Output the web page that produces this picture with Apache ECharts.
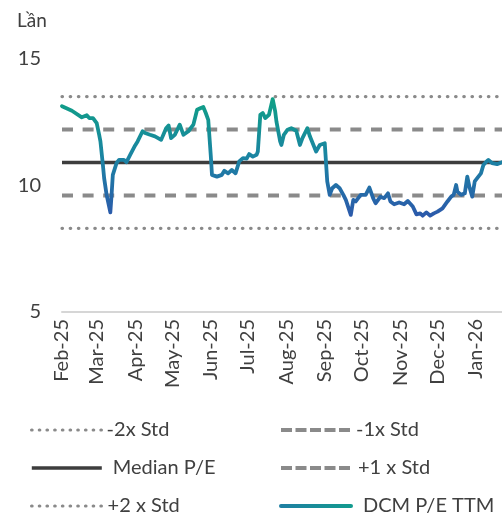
<!DOCTYPE html>
<html>
<head>
<meta charset="utf-8">
<script src="https://cdn.jsdelivr.net/npm/echarts@6/dist/echarts.min.js"></script>
<style>
  html, body { margin: 0; padding: 0; background: #fff; }
  #main { width: 502px; height: 520px; }
</style>
</head>
<body>
<div id="main"></div>
<script>
// P/E TTM cua DCM, doc tu hinh
var dates = ['2025-02-01','2025-02-09','2025-02-17','2025-02-21','2025-02-23','2025-02-26',
  '2025-03-01','2025-03-03','2025-03-04','2025-03-05','2025-03-06','2025-03-07','2025-03-09','2025-03-12','2025-03-13','2025-03-14','2025-03-17','2025-03-19','2025-03-23','2025-03-25','2025-03-28',
  '2025-04-01','2025-04-03','2025-04-07','2025-04-09','2025-04-13','2025-04-17','2025-04-22','2025-04-23','2025-04-26','2025-04-28','2025-04-30',
  '2025-05-03','2025-05-07','2025-05-10','2025-05-14','2025-05-18','2025-05-21','2025-05-24','2025-05-26','2025-05-28','2025-05-30',
  '2025-06-01','2025-06-02','2025-06-03','2025-06-06','2025-06-10','2025-06-12','2025-06-15','2025-06-18','2025-06-21','2025-06-24','2025-06-27','2025-06-30',
  '2025-07-02','2025-07-05','2025-07-08','2025-07-09','2025-07-11','2025-07-13','2025-07-15','2025-07-18','2025-07-21','2025-07-23','2025-07-24','2025-07-27','2025-07-28','2025-07-30',
  '2025-08-02','2025-08-05','2025-08-09','2025-08-12','2025-08-14','2025-08-18','2025-08-20','2025-08-25','2025-08-28',
  '2025-09-01','2025-09-02','2025-09-03','2025-09-05','2025-09-07','2025-09-10','2025-09-13','2025-09-16','2025-09-18','2025-09-22','2025-09-24','2025-09-26','2025-09-30',
  '2025-10-01','2025-10-04','2025-10-07','2025-10-10','2025-10-12','2025-10-16','2025-10-19','2025-10-22','2025-10-24','2025-10-27','2025-10-31',
  '2025-11-04','2025-11-07','2025-11-11','2025-11-14','2025-11-17','2025-11-19','2025-11-22','2025-11-25','2025-11-28',
  '2025-12-01','2025-12-05','2025-12-09','2025-12-12','2025-12-14','2025-12-16','2025-12-17','2025-12-20','2025-12-23','2025-12-25','2025-12-27','2025-12-29','2025-12-31',
  '2026-01-02','2026-01-05','2026-01-07','2026-01-09','2026-01-11','2026-01-14','2026-01-18','2026-01-22'];

var peValues = [13.12, 12.94, 12.68, 12.76, 12.65, 12.65,
  12.45, 11.99, 11.73, 11.7, 10.8, 10.28, 9.62, 8.93, 9.62, 10.41, 10.87, 11.0, 11.0, 10.91, 11.2,
  11.57, 11.73, 12.13, 12.06, 11.99, 11.93, 11.79, 11.73, 12.25, 12.36, 11.86,
  11.99, 12.39, 11.99, 12.13, 12.39, 12.98, 13.05, 13.09, 12.85, 12.58,
  11.2, 10.41, 10.47, 10.34, 10.41, 10.57, 10.47, 10.6, 10.47, 10.94, 11.07, 11.05,
  11.23, 11.13, 11.2, 11.33, 12.78, 12.85, 12.65, 12.78, 13.4, 12.91, 12.52, 11.73, 11.59, 11.99,
  12.19, 12.25, 12.15, 11.59, 11.86, 12.25, 11.93, 11.33, 11.59,
  11.66, 11.6, 10.15, 9.62, 9.88, 10.01, 9.88, 9.62, 9.42, 8.83, 9.42, 9.36, 9.62,
  9.68, 9.62, 9.91, 9.49, 9.29, 9.55, 9.49, 9.68, 9.36, 9.25, 9.32,
  9.25, 9.38, 9.16, 8.85, 8.89, 8.8, 8.93, 8.8, 8.89,
  8.96, 9.09, 9.36, 9.55, 9.62, 10.01, 9.75, 9.62, 9.68, 10.34, 9.88, 9.55, 10.15,
  10.28, 10.47, 10.8, 10.91, 11.0, 10.87, 10.83, 10.91];

// cac duong trung vi / do lech chuan
var bandNames = ['-2x Std', '-1x Std', 'Median P/E', '+1 x Std', '+2 x Std'];
var bandValues = [8.3, 9.6, 10.9, 12.2, 13.5];

var monthNames = ['Jan','Feb','Mar','Apr','May','Jun','Jul','Aug','Sep','Oct','Nov','Dec'];
var monthTicks = ['2025-02-01','2025-03-01','2025-04-01','2025-05-01','2025-06-01','2025-07-01',
  '2025-08-01','2025-09-01','2025-10-01','2025-11-01','2025-12-01','2026-01-01'];

var yTicks = [5, 10, 15];

function toTime(s) {
    var p = s.split('-');
    return Date.UTC(+p[0], +p[1] - 1, +p[2]);
}

var FONT = 'Lato';
var TXT = '#404040';

var myChart = echarts.init(document.getElementById('main'));

var xMin = toTime(dates[0]);
var xMax = toTime(dates[dates.length - 1]);

var lineData = [];
for (var i = 0; i < dates.length; i++) {
    lineData.push([toTime(dates[i]), peValues[i]]);
}

var bandStyles = [
    {type: [0.5, 7.7], width: 3.2, cap: 'round', color: '#8a8a8a'},
    {type: [11, 9.6], width: 4, cap: 'butt', color: '#8a8a8a'},
    {type: 'solid', width: 3.6, cap: 'butt', color: '#3d3d3d'},
    {type: [11, 9.6], width: 4, cap: 'butt', color: '#8a8a8a'},
    {type: [0.5, 7.7], width: 3.2, cap: 'round', color: '#8a8a8a'}
];

var series = [];
for (var b = 0; b < bandNames.length; b++) {
    series.push({
        name: bandNames[b],
        type: 'line',
        symbol: 'none',
        silent: true,
        z: 2,
        color: bandStyles[b].color,
        lineStyle: {
            color: bandStyles[b].color,
            width: bandStyles[b].width,
            type: bandStyles[b].type,
            cap: bandStyles[b].cap
        },
        data: [[xMin, bandValues[b]], [xMax, bandValues[b]]]
    });
}

var peColor = new echarts.graphic.LinearGradient(0, 0, 0, 1, [
    {offset: 0, color: '#0fa085'},
    {offset: 0.5, color: '#1b84a3'},
    {offset: 1, color: '#2c58ab'}
]);

series.push({
    name: 'DCM P/E TTM',
    type: 'line',
    symbol: 'none',
    z: 5,
    color: '#1a8a9c',
    lineStyle: {color: peColor, width: 3.8, join: 'round', cap: 'round'},
    data: lineData
});

// moi muc chu thich dat rieng de giu dung 2 cot
var legendPos = [
    {name: '-2x Std', left: 30, top: 420, pad: 0, st: 0},
    {name: '-1x Std', left: 279, top: 420, pad: 0, st: 1},
    {name: 'Median P/E', left: 30, top: 458, pad: 6, st: 2},
    {name: '+1 x Std', left: 279, top: 458, pad: 2, st: 3},
    {name: '+2 x Std', left: 30, top: 496, pad: 1, st: 4},
    {name: 'DCM P/E TTM', left: 279, top: 496, pad: 7, st: -1}
];
var legends = [];
for (var k = 0; k < legendPos.length; k++) {
    var lg = {
        data: [legendPos[k].name],
        left: legendPos[k].left,
        top: legendPos[k].top,
        padding: 0,
        itemWidth: 70,
        itemHeight: 14,
        selectedMode: false,
        itemStyle: {opacity: 0},
        textStyle: {
            fontFamily: FONT, fontSize: 20, color: TXT,
            padding: [0, 0, 0, legendPos[k].pad]
        }
    };
    if (legendPos[k].st >= 0) {
        var s = bandStyles[legendPos[k].st];
        lg.lineStyle = {
            color: s.color,
            width: s.width,
            type: s.type === 'solid' ? 'solid' : (s.cap === 'round' ? [0.5, 7.2] : [11, 3.5]),
            cap: s.cap
        };
    } else {
        lg.lineStyle = {color: new echarts.graphic.LinearGradient(0, 0, 1, 0, [
            {offset: 0, color: '#1f7fa3'},
            {offset: 1, color: '#129b8e'}
        ]), width: 4, cap: 'round'};
    }
    legends.push(lg);
}

var option = {
    animation: false,
    title: {
        text: 'Lần',
        left: 12,
        top: 6,
        textStyle: {fontFamily: FONT, fontSize: 19, fontWeight: 'normal', color: TXT}
    },
    legend: legends,
    grid: {left: 62, right: 0, top: 58.5, bottom: 208, containLabel: false},
    xAxis: {
        type: 'value',
        min: xMin,
        max: xMax,
        axisLine: {show: true, lineStyle: {color: '#d6d6d6', width: 2}},
        axisTick: {show: false},
        splitLine: {show: false},
        axisLabel: {
            rotate: 90,
            margin: 7,
            fontFamily: FONT,
            fontSize: 20,
            color: TXT,
            customValues: monthTicks.map(toTime),
            formatter: function (val) {
                var d = new Date(val);
                return monthNames[d.getUTCMonth()] + '-' + String(d.getUTCFullYear()).slice(2);
            }
        }
    },
    yAxis: {
        type: 'value',
        min: yTicks[0],
        max: yTicks[yTicks.length - 1],
        interval: 5,
        axisLine: {show: false},
        axisTick: {show: false},
        splitLine: {show: false},
        axisLabel: {margin: 21, fontFamily: FONT, fontSize: 20, color: TXT}
    },
    series: series
};
myChart.setOption(option);
</script>
</body>
</html>
